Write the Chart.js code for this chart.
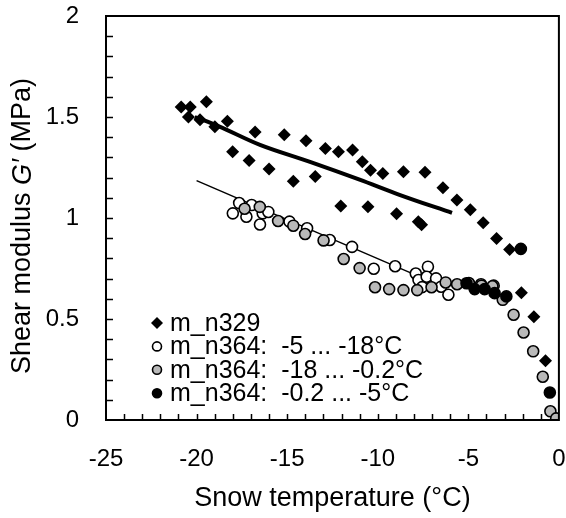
<!DOCTYPE html>
<html>
<head>
<meta charset="utf-8">
<script src="https://cdn.jsdelivr.net/npm/chart.js@4"></script>
<style>
    html, body { margin: 0; padding: 0; background: #fff; }
</style>
</head>
<body>
<canvas id="ChartModulo" width="566" height="518"></canvas>
<script>

// m_n329 (diamantes)
const TempN329 = [-20.85, -20.45, -20.35, -19.81, -19.46, -18.99, -18.3, -18.01, -17.1, -16.77, -16.0, -15.16, -14.66, -13.96, -13.45, -12.89, -12.17, -12.04, -11.39, -10.85, -10.54, -10.4, -9.72, -8.96, -8.58, -7.76, -7.58, -7.39, -6.4, -5.63, -4.89, -4.18, -3.44, -2.72, -2.07, -1.38, -0.74];
const GN329 = [1.55, 1.50, 1.55, 1.487, 1.575, 1.452, 1.479, 1.328, 1.285, 1.426, 1.243, 1.412, 1.182, 1.383, 1.205, 1.344, 1.328, 1.059, 1.337, 1.278, 1.056, 1.237, 1.22, 1.021, 1.229, 0.982, 0.966, 1.226, 1.15, 1.089, 1.041, 0.977, 0.898, 0.844, 0.63, 0.511, 0.293];

// m_n364: -5 ... -18°C (blancos)
const TempN364a = [-18.0, -17.65, -17.25, -16.96, -16.5, -16.35, -16.04, -14.87, -13.9, -12.65, -11.42, -10.22, -9.04, -7.9, -7.75, -7.55, -7.23, -7.3, -6.78, -6.5, -6.1, -4.3, -3.6];
const GN364a = [1.023, 1.074, 1.006, 1.064, 0.968, 1.023, 1.03, 0.982, 0.949, 0.891, 0.857, 0.749, 0.761, 0.725, 0.693, 0.658, 0.759, 0.709, 0.701, 0.66, 0.62, 0.672, 0.665];

// m_n364: -18 ... -0.2°C (grises)
const TempN364b = [-17.35, -16.51, -15.5, -14.66, -14.01, -12.99, -11.88, -11.0, -10.15, -9.37, -8.58, -7.82, -7.03, -6.25, -5.62, -4.97, -4.27, -3.67, -3.1, -2.5, -1.95, -1.42, -0.89, -0.47, -0.15];
const GN364b = [1.046, 1.055, 0.985, 0.962, 0.921, 0.889, 0.797, 0.752, 0.657, 0.648, 0.643, 0.643, 0.657, 0.681, 0.672, 0.678, 0.665, 0.662, 0.595, 0.521, 0.433, 0.34, 0.214, 0.043, 0.008];

// m_n364: -0.2 ... -5°C (negros)
const TempN364c = [-5.1, -4.65, -4.1, -3.55, -2.9, -2.1, -0.5];
const GN364c = [0.677, 0.648, 0.648, 0.628, 0.612, 0.847, 0.136];

// ajustes
const TempAjusteN329 = [-20.1, -18.8, -16.5, -13.7, -11.0, -8.8, -5.9];
const GAjusteN329 = [1.50, 1.455, 1.362, 1.277, 1.19, 1.115, 1.025];
const TempAjusteN364 = [-20.0, -7.7];
const GAjusteN364 = [1.185, 0.71];

const TicksX = [-25, -20, -15, -10, -5, 0];
const TicksY = [0, 0.5, 1, 1.5, 2];

const Etiquetas = ['m_n329', 'm_n364:  -5 ... -18°C', 'm_n364:  -18 ... -0.2°C', 'm_n364:  -0.2 ... -5°C'];

const Puntos = (Xs, Ys) => Xs.map((x, i) => ({ x: x, y: Ys[i] }));

const Fuente = '"Liberation Sans", Arial, sans-serif';

const Marcos = {
    id: 'marcos',
    afterDatasetsDraw(chart) {
        const ctx = chart.ctx;
        const a = chart.chartArea;
        const sx = chart.scales.x;
        const sy = chart.scales.y;
        ctx.save();
        ctx.strokeStyle = '#000';
        ctx.lineWidth = 1.5;
        ctx.beginPath();
        for (let i = 1; i < 20; i++) {
            const py = Math.round(sy.getPixelForValue(i / 10)) + 0.5;
            ctx.moveTo(a.left, py);
            ctx.lineTo(a.left + 7, py);
        }
        for (let i = -24; i < 0; i++) {
            const px = Math.round(sx.getPixelForValue(i)) + 0.5;
            ctx.moveTo(px, a.bottom);
            ctx.lineTo(px, a.bottom - 6);
        }
        ctx.stroke();
        ctx.lineWidth = 2;
        ctx.strokeRect(a.left, a.top, a.right - a.left, a.bottom - a.top);
        ctx.restore();
    },
    afterDraw(chart) {
        const ctx = chart.ctx;
        const a = chart.chartArea;
        ctx.save();
        ctx.fillStyle = '#000';

        // titulo eje x
        ctx.font = '27px ' + Fuente;
        ctx.textAlign = 'center';
        ctx.textBaseline = 'middle';
        ctx.fillText('Snow temperature (°C)', (a.left + a.right) / 2, 499);

        // titulo eje y con G' en cursiva
        const partes = [['Shear modulus ', 'normal'], ['G′', 'italic'], [' (MPa)', 'normal']];
        let total = 0;
        partes.forEach(p => { ctx.font = p[1] + ' 27px ' + Fuente; total += ctx.measureText(p[0]).width; });
        ctx.translate(23, 226);
        ctx.rotate(-Math.PI / 2);
        ctx.textAlign = 'left';
        let px = -total / 2;
        partes.forEach(p => {
            ctx.font = p[1] + ' 27px ' + Fuente;
            ctx.fillText(p[0], px, 0);
            px += ctx.measureText(p[0]).width;
        });
        ctx.setTransform(1, 0, 0, 1, 0, 0);

        // leyenda
        ctx.font = '25px ' + Fuente;
        ctx.textAlign = 'left';
        ctx.textBaseline = 'middle';
        chart.data.datasets.forEach((ds, i) => {
            if (!ds.enLeyenda) return;
            const y = a.bottom - 97 + i * 23.4;
            const x = a.left + 51;
            ctx.fillStyle = ds.backgroundColor;
            ctx.strokeStyle = ds.borderColor;
            ctx.lineWidth = ds.borderWidth;
            Chart.helpers.drawPoint(ctx, { pointStyle: ds.pointStyle, radius: ds.pointStyle === 'rectRot' ? 6 : 4.5, rotation: 0, borderWidth: ds.borderWidth }, x, y);
            ctx.fillStyle = '#000';
            ctx.fillText(ds.label, x + 13, y + 1);
        });
        ctx.restore();
    }
};

const ctxModulo = document.getElementById('ChartModulo');
const ChartModulo = new Chart(ctxModulo, {
    type: 'scatter',
    data: {
        datasets: [{
            label: Etiquetas[0],
            enLeyenda: true,
            data: Puntos(TempN329, GN329),
            pointStyle: 'rectRot',
            pointRadius: 6.5,
            backgroundColor: '#000',
            borderColor: '#000',
            borderWidth: 0,
            order: 3
        }, {
            label: Etiquetas[1],
            enLeyenda: true,
            data: Puntos(TempN364a, GN364a),
            pointStyle: 'circle',
            pointRadius: 5.5,
            backgroundColor: '#fff',
            borderColor: '#000',
            borderWidth: 1.6,
            order: 2
        }, {
            label: Etiquetas[2],
            enLeyenda: true,
            data: Puntos(TempN364b, GN364b),
            pointStyle: 'circle',
            pointRadius: 5.5,
            backgroundColor: '#b9b9b9',
            borderColor: '#000',
            borderWidth: 1.6,
            order: 1
        }, {
            label: Etiquetas[3],
            enLeyenda: true,
            data: Puntos(TempN364c, GN364c),
            pointStyle: 'circle',
            pointRadius: 5.5,
            backgroundColor: '#000',
            borderColor: '#000',
            borderWidth: 1.6,
            order: 0
        }, {
            type: 'line',
            label: 'ajuste n329',
            data: Puntos(TempAjusteN329, GAjusteN329),
            borderColor: '#000',
            borderWidth: 4,
            pointRadius: 0,
            cubicInterpolationMode: 'monotone',
            fill: false,
            order: 5
        }, {
            type: 'line',
            label: 'ajuste n364',
            data: Puntos(TempAjusteN364, GAjusteN364),
            borderColor: '#000',
            borderWidth: 1.5,
            pointRadius: 0,
            fill: false,
            order: 4
        }]
    },
    options: {
        responsive: false,
        animation: false,
        layout: {
            padding: { top: 16, right: 7, left: 0, bottom: 0 }
        },
        plugins: {
            legend: { display: false },
            tooltip: { enabled: false }
        },
        scales: {
            x: {
                type: 'linear',
                min: -25,
                max: 0,
                afterBuildTicks: (s) => { s.ticks = TicksX.map(v => ({ value: v })); },
                afterFit: (s) => { s.height = 98; s.paddingLeft = 0; s.paddingRight = 0; },
                grid: { display: false },
                border: { display: false },
                ticks: {
                    color: '#000',
                    padding: 17,
                    maxRotation: 0,
                    font: { family: Fuente, size: 24 },
                    callback: (v) => String(v)
                }
            },
            y: {
                type: 'linear',
                min: 0,
                max: 2,
                afterBuildTicks: (s) => { s.ticks = TicksY.map(v => ({ value: v })); },
                afterFit: (s) => { s.width = 106; s.paddingTop = 0; s.paddingBottom = 0; },
                grid: { display: false },
                border: { display: false },
                ticks: {
                    color: '#000',
                    padding: 19,
                    font: { family: Fuente, size: 24 },
                    callback: (v) => String(v)
                }
            }
        }
    },
    plugins: [Marcos]
});

</script>
</body>
</html>
